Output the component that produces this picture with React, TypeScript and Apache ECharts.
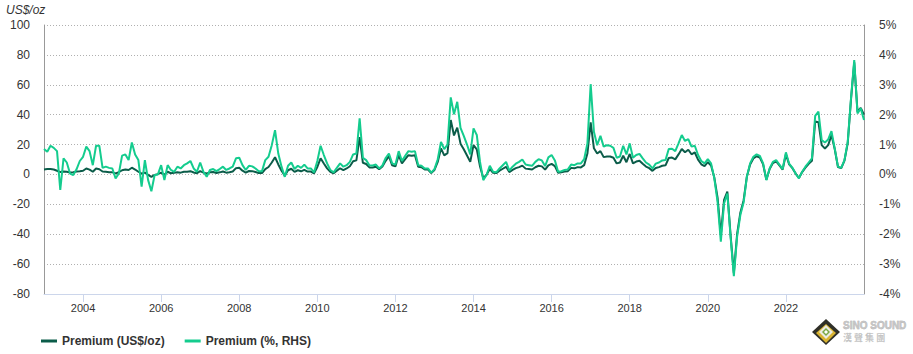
import React, { useEffect, useRef } from "react";
import * as echarts from "echarts";

const START_YEAR = 2003;
const yearTicks = [2004, 2006, 2008, 2010, 2012, 2014, 2016, 2018, 2020, 2022];

// Premium (%, RHS), monthly from Jan 2003
const premiumPct = [
  0.85, 0.76, 0.96, 0.89, 0.78, -0.52, 0.54, 0.40, 0.03, -0.02, 0.17, 0.45,
  0.59, 0.93, 0.78, 0.31, 0.96, 0.96, 0.22, 0.26, 0.22, 0.20, -0.13, 0.03,
  0.63, 0.67, 0.48, 1.07, 0.67, 0.48, -0.41, 0.48, -0.19, -0.56, -0.02, 0.00,
  0.31, -0.19, 0.31, 0.15, 0.09, 0.26, 0.20, 0.31, 0.37, 0.45, 0.20, 0.09,
  0.40, 0.09, -0.08, 0.15, 0.18, 0.11, 0.18, 0.26, 0.15, 0.20, 0.26, 0.54,
  0.56, 0.31, 0.15, 0.29, 0.27, 0.20, 0.11, 0.11, 0.48, 0.59, 0.98, 1.48,
  0.70, 0.26, -0.08, 0.29, 0.40, 0.18, 0.29, 0.22, 0.33, 0.20, 0.20, 0.07,
  0.45, 0.96, 0.65, 0.37, 0.15, 0.07, 0.22, 0.37, 0.26, 0.31, 0.42, 0.67,
  0.70, 1.88, 0.56, 0.48, 0.31, 0.30, 0.33, 0.20, 0.30, 0.55, 0.70, 0.37,
  0.33, 0.78, 0.45, 0.62, 0.78, 0.76, 0.78, 0.31, 0.29, 0.20, 0.20, 0.06,
  0.18, 0.51, 1.09, 0.85, 1.00, 2.58, 2.01, 2.43, 1.56, 1.29, 1.00, 0.67,
  1.54, 1.32, 0.42, -0.19, -0.02, 0.29, 0.09, 0.07, 0.20, 0.31, 0.42, 0.13,
  0.26, 0.36, 0.42, 0.50, 0.33, 0.31, 0.29, 0.42, 0.51, 0.47, 0.28, 0.57,
  0.65, 0.47, 0.09, 0.11, 0.15, 0.17, 0.33, 0.31, 0.37, 0.37, 0.51, 1.04,
  3.02, 1.43, 0.98, 1.29, 0.93, 0.98, 0.96, 0.89, 0.56, 0.60, 0.96, 0.67,
  1.04, 0.56, 0.65, 0.69, 0.54, 0.40, 0.33, 0.20, 0.36, 0.40, 0.47, 0.48,
  0.85, 0.86, 0.78, 1.04, 1.32, 1.12, 1.18, 0.93, 0.96, 0.65, 0.45, 0.37,
  0.51, 0.37, -0.13, -0.92, -2.25, -0.97, -0.64, -2.09, -3.40, -2.09, -1.36, -0.94,
  -0.08, 0.37, 0.59, 0.67, 0.62, 0.37, -0.19, 0.20, 0.42, 0.48, 0.33, 0.18,
  0.74, 0.36, 0.22, 0.03, -0.13, 0.09, 0.26, 0.40, 0.54, 1.96, 2.10, 1.15,
  1.07, 1.17, 1.45, 0.87, 0.26, 0.22, 0.48, 1.09, 2.54, 3.83, 2.04, 2.21,
  1.82,
];

// Premium (US$/oz), monthly from Jan 2003
const premiumUsd = [
  3.3, 3.6, 3.6, 3.3, 2.5, 1.6, 2.0, 1.8, 1.3, 1.5, 2.0, 2.2,
  2.5, 4.0, 3.2, 1.8, 4.0, 3.5, 2.0, 1.8, 1.5, 1.4, 0.7, 1.5,
  2.8, 3.3, 3.0, 4.5, 3.3, 1.8, 0.5, 1.2, -0.3, -1.6, -0.3, 0.2,
  1.2, -0.2, 1.8, 0.8, 1.2, 1.5, 1.2, 1.8, 1.8, 2.2, 1.3, 0.8,
  2.2, 1.2, 0.6, 1.4, 1.6, 1.0, 1.4, 2.0, 1.2, 1.5, 2.0, 4.2,
  4.5, 2.5, 1.2, 2.3, 2.2, 1.6, 0.9, 0.9, 3.6, 5.0, 8.0, 11.5,
  6.7, 2.5, -0.8, 2.8, 3.8, 1.7, 2.8, 2.1, 3.1, 1.9, 1.9, 0.7,
  5.0, 10.8, 7.3, 4.1, 1.7, 0.8, 2.5, 4.1, 2.9, 4.0, 5.5, 8.8,
  9.4, 25.0, 7.8, 7.0, 4.7, 4.6, 5.2, 3.5, 5.3, 9.1, 12.3, 6.1,
  5.4, 12.9, 7.4, 10.2, 12.9, 12.5, 12.9, 5.1, 4.8, 3.3, 3.3, 1.0,
  3.0, 8.4, 17.4, 12.8, 14.3, 36.4, 26.1, 31.3, 20.6, 16.8, 12.7, 8.4,
  19.6, 16.8, 5.3, -2.4, -0.3, 3.7, 1.1, 0.9, 2.5, 3.8, 5.1, 1.6,
  3.0, 4.2, 4.9, 5.9, 3.9, 3.6, 3.3, 4.8, 5.8, 5.4, 3.2, 6.1,
  7.1, 5.6, 1.1, 1.4, 1.9, 2.2, 4.4, 4.1, 4.9, 4.7, 6.2, 14.0,
  34.8, 17.5, 14.0, 15.6, 11.6, 12.0, 12.0, 11.2, 7.4, 8.0, 12.5, 8.2,
  13.7, 7.4, 8.6, 9.1, 7.1, 5.3, 4.2, 2.4, 4.3, 4.9, 5.8, 6.1,
  11.0, 11.3, 10.1, 13.4, 17.0, 14.8, 16.5, 13.5, 14.7, 9.9, 6.8, 5.5,
  8.2, 6.0, -2.1, -15.5, -40.5, -17.0, -11.5, -40.8, -66.0, -40.0, -25.6, -17.4,
  -1.5, 6.7, 10.7, 12.2, 11.3, 6.7, -3.5, 3.6, 7.6, 8.7, 6.0, 3.3,
  13.5, 6.7, 4.2, 0.6, -2.4, 1.6, 4.5, 7.1, 9.1, 35.5, 35.0, 19.6,
  17.4, 19.6, 26.3, 17.0, 5.0, 4.2, 9.3, 21.0, 50.0, 75.0, 42.0, 44.5,
  40.0,
];

const monthX = premiumPct.map((_, i) => START_YEAR + i / 12);

const DARK = "#0b5c49";
const GREEN = "#14cc8e";

export default function App() {
  const ref = useRef<HTMLDivElement>(null);
  useEffect(() => {
    if (!ref.current) return;
    const chart = echarts.init(ref.current, null, { renderer: "svg" });
    const font = "Arial, 'Liberation Sans', sans-serif";
    chart.setOption({
      animation: false,
      textStyle: { fontFamily: font },
      grid: { left: 44, right: 49, top: 25, bottom: 60, containLabel: false },
      legend: {
        left: 36,
        top: 330,
        itemWidth: 16,
        itemHeight: 3,
        itemGap: 20,
        icon: "rect",
        textStyle: { color: "#333", fontSize: 12, fontWeight: "bold", fontFamily: font },
        data: ["Premium (US$/oz)", "Premium (%, RHS)"],
      },
      xAxis: {
        type: "value",
        min: START_YEAR,
        max: 2024,
        splitLine: { show: false },
        axisLine: { show: true, onZero: false, lineStyle: { color: "#ccd6eb", width: 1 } },
        axisTick: { show: true, length: 8, customValues: yearTicks, lineStyle: { color: "#ccd6eb" } },
        axisLabel: {
          customValues: yearTicks,
          color: "#333",
          fontSize: 11,
          margin: 8,
          formatter: (v: number) => String(v),
        },
      },
      yAxis: [
        {
          type: "value",
          min: -80,
          max: 100,
          interval: 20,
          axisLine: { show: true, lineStyle: { color: "#999" } },
          axisTick: { show: false },
          axisLabel: { color: "#333", fontSize: 12, margin: 14 },
          splitLine: { show: true, lineStyle: { color: "#b0b0b0", type: [1, 2], width: 1 } },
        },
        {
          type: "value",
          min: -4,
          max: 5,
          interval: 1,
          position: "right",
          axisLine: { show: true, lineStyle: { color: "#999" } },
          axisTick: { show: false },
          axisLabel: { color: "#333", fontSize: 12, margin: 15, formatter: "{value}%" },
          splitLine: { show: false },
        },
      ],
      series: [
        {
          name: "Premium (US$/oz)",
          type: "line",
          yAxisIndex: 0,
          showSymbol: false,
          symbol: "none",
          color: DARK,
          lineStyle: { width: 2, color: DARK },
          data: monthX.map((x, i) => [x, premiumUsd[i]]),
          z: 2,
        },
        {
          name: "Premium (%, RHS)",
          type: "line",
          yAxisIndex: 1,
          showSymbol: false,
          symbol: "none",
          color: GREEN,
          lineStyle: { width: 2, color: GREEN },
          data: monthX.map((x, i) => [x, premiumPct[i]]),
          z: 3,
        },
      ],
      graphic: [
        {
          type: "text",
          left: 6,
          top: 4,
          style: { text: "US$/oz", fill: "#333", font: `italic 12px ${font}` },
        },
        {
          type: "group",
          left: 812,
          top: 319,
          children: [
            { type: "polygon", shape: { points: [[14, 0], [28, 13], [14, 26], [0, 13]] }, style: { fill: "#2f2f28" } },
            { type: "polygon", shape: { points: [[14, 5], [24, 14], [14, 24], [4, 14]] }, style: { fill: "#d9b431" } },
            { type: "polygon", shape: { points: [[14, 6], [21, 13], [14, 20], [7, 13]] }, style: { fill: "#ecebe3" } },
            { type: "polygon", shape: { points: [[14, 9], [18, 13], [14, 17], [10, 13]] }, style: { fill: "#79a843" } },
            { type: "polygon", shape: { points: [[14, 11], [16, 13], [14, 15], [12, 13]] }, style: { fill: "#ffffff" } },
            {
              type: "text",
              x: 31,
              y: 1,
              style: { text: "SINO SOUND", fill: "#c4c4c4", stroke: "#9a9a9a", lineWidth: 0.4, font: `bold 10px ${font}` },
            },
            {
              type: "text",
              x: 31,
              y: 14,
              style: { text: "漢 聲 集 團", fill: "#c4c4c4", font: `bold 9px 'Noto Sans CJK TC', sans-serif` },
            },
          ],
        },
      ],
    });
    return () => chart.dispose();
  }, []);
  return (
    <div
      ref={ref}
      style={{ position: "fixed", left: 0, top: 0, width: 913, height: 354, background: "#fff" }}
    />
  );
}
